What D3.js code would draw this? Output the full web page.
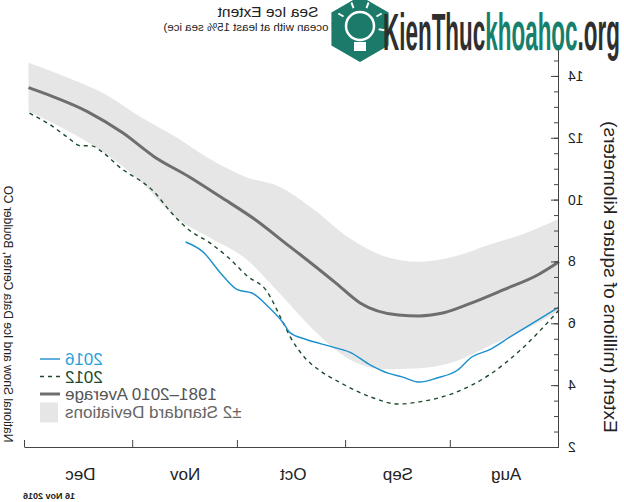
<!DOCTYPE html>
<html>
<head>
<meta charset="utf-8">
<script src="https://cdn.jsdelivr.net/npm/d3@7"></script>
<style>
  body { margin: 0; background: #fff; }
  svg { display: block; font-family: "Liberation Sans", Arial, sans-serif; }
</style>
</head>
<body>
<svg id="chart" width="624" height="502"></svg>
<script>
// values (millions of km²), dates as month-day
const months = ["Aug", "Sep", "Oct", "Nov", "Dec"];
const yTicks = [2, 4, 6, 8, 10, 12, 14];
const legendLabels = ["2016", "2012", "1981\u20132010 Average", "\u00b12 Standard Deviations"];

const bandDates = ["08-01","08-11","08-21","08-31","09-10","09-20","09-30","10-10",
                   "10-20","10-30","11-09","11-19","11-29","12-09","12-19","12-31"];
const bandUpper = [9.38, 8.90, 8.54, 8.16, 7.99, 8.17, 8.75, 9.66,
                   10.41, 10.74, 11.31, 12.04, 12.68, 13.41, 13.91, 14.43];
const bandLower = [6.40, 5.79, 5.27, 4.76, 4.55, 4.52, 4.83, 5.75,
                   6.96, 8.11, 8.77, 9.44, 10.60, 11.50, 12.18, 12.86];

const avgDates = ["08-01","08-07","08-17","08-26","09-03","09-10","09-16","09-27","10-04","10-14",
                  "10-17","10-27","11-06","11-15","11-25","12-04","12-14","12-24","12-31"];
const avgValues = [7.99, 7.57, 7.08, 6.66, 6.34, 6.24, 6.27, 6.66, 7.31, 8.21,
                   8.47, 9.35, 10.09, 10.74, 11.39, 12.16, 12.84, 13.33, 13.62];

const dates2012 = ["08-01","08-12","08-21","08-31","09-10","09-16","09-24","10-03","10-08","10-13",
                   "10-17","10-19","10-24","10-29","11-04","11-09","11-15","11-20","11-25","12-05",
                   "12-10","12-13","12-16","12-20","12-24","12-31"];
const values2012 = [6.43, 5.14, 4.33, 3.75, 3.46, 3.39, 3.62, 4.10, 4.43, 4.91,
                    5.56, 6.01, 7.08, 7.50, 8.15, 8.60, 9.02, 9.57, 10.25, 11.06,
                    11.55, 11.74, 11.74, 12.03, 12.36, 12.81];

const dates2016 = ["08-01","08-07","08-15","08-21","08-26","08-30","09-05","09-10","09-15","09-19",
                   "09-24","09-30","10-05","10-13","10-17","10-19","10-23","10-28","11-01","11-06",
                   "11-11","11-16"];
const values2016 = [6.53, 6.11, 5.56, 5.14, 4.91, 4.49, 4.23, 4.10, 4.27, 4.39,
                    4.65, 5.07, 5.24, 5.50, 5.69, 6.01, 6.50, 6.98, 7.08, 7.63,
                    8.31, 8.63];

const parse = d3.timeParse("%m-%d");

const svg = d3.select("#chart");
svg.append("rect").attr("width", 624).attr("height", 502).attr("fill", "#fff");

// the reference is a mirror image, so draw normally and flip the whole chart
const g = svg.append("g").attr("transform", "translate(624,0) scale(-1,1)");

const x = d3.scaleTime()
    .domain([new Date(1900, 7, 1), new Date(1901, 0, 1)])
    .range([65, 599]);
const y = d3.scaleLinear().domain([2, 15]).range([447, 45]);

const band = d3.zip(bandDates.map(parse), bandLower, bandUpper);
const avg = d3.zip(avgDates.map(parse), avgValues);
const s2012 = d3.zip(dates2012.map(parse), values2012);
const s2016 = d3.zip(dates2016.map(parse), values2016);

const line = d3.line().x(d => x(d[0])).y(d => y(d[1])).curve(d3.curveMonotoneX);
const area = d3.area().x(d => x(d[0])).y0(d => y(d[1])).y1(d => y(d[2])).curve(d3.curveMonotoneX);

g.append("path").attr("d", area(band)).attr("fill", "#e6e6e6");

g.append("path").attr("d", line(avg))
    .attr("fill", "none").attr("stroke", "#6e6e6e").attr("stroke-width", 3);

g.append("path").attr("d", line(s2012))
    .attr("fill", "none").attr("stroke", "#1d4a2b").attr("stroke-width", 1.4)
    .attr("stroke-dasharray", "4,4");

g.append("path").attr("d", line(s2016))
    .attr("fill", "none").attr("stroke", "#1b8fce").attr("stroke-width", 1.4);

// y axis: minor ticks every 0.5, labelled every 2
g.append("g").attr("transform", "translate(65,0)")
    .call(d3.axisLeft(y).tickValues(d3.range(2, 15.01, 0.5)).tickSize(-5).tickSizeOuter(0).tickFormat(""))
    .call(a => a.selectAll("line,path").attr("stroke", "#444"));

g.append("g").attr("transform", "translate(65,0)")
    .call(d3.axisLeft(y).tickValues(yTicks).tickSize(-8).tickPadding(9).tickFormat(d3.format("d")))
    .call(a => a.select(".domain").remove())
    .call(a => a.selectAll("line").attr("stroke", "#444"))
    .call(a => a.selectAll("text").attr("font-size", 14).attr("fill", "#222")
        .attr("font-family", "Liberation Sans, Arial, sans-serif"));

// x axis: ticks at month starts, labels mid-month
const monthStarts = d3.range(months.length + 1).map(i => new Date(1900, 7 + i, 1));
g.append("g").attr("transform", "translate(0,447)")
    .call(d3.axisBottom(x).tickValues(monthStarts).tickSize(-7).tickSizeOuter(0).tickFormat(""))
    .call(a => a.selectAll("line,path").attr("stroke", "#444"));

const monthMids = months.map((m, i) => new Date(1900, 7 + i, 16));
g.append("g").attr("transform", "translate(0,447)")
    .call(d3.axisBottom(x).tickValues(monthMids).tickSize(0).tickPadding(21)
        .tickFormat((d, i) => months[i]))
    .call(a => a.select(".domain").remove())
    .call(a => a.selectAll("text").attr("font-size", 17).attr("fill", "#222")
        .attr("font-family", "Liberation Sans, Arial, sans-serif"));

// titles and credits
g.append("text").attr("x", 356).attr("y", 17).attr("text-anchor", "middle")
    .attr("font-size", 15.5).attr("fill", "#222").text("Sea Ice Extent");
g.append("text").attr("x", 356).attr("y", 31).attr("text-anchor", "middle")
    .attr("font-size", 11.5).attr("fill", "#222").text("(Area of ocean with at least 15% sea ice)");

g.append("text").attr("transform", "translate(20,277) rotate(-90)").attr("text-anchor", "middle")
    .attr("font-size", 19).attr("fill", "#222").text("Extent (millions of square kilometers)");

g.append("text").attr("transform", "translate(620,314) rotate(-90)").attr("text-anchor", "middle")
    .attr("font-size", 12).attr("fill", "#222").text("National Snow and Ice Data Center, Boulder CO");

g.append("text").attr("x", 601).attr("y", 499).attr("text-anchor", "end")
    .attr("font-size", 9).attr("font-weight", "bold").attr("fill", "#222").text("16 Nov 2016");

// legend
const legendColors = ["#2b9fd8", "#1d4a2b", "#555", "#666"];
const legend = g.append("g");
legendLabels.forEach((label, i) => {
  const by = 365 + i * 17.5;
  const row = legend.append("g");
  if (i === 3) {
    row.append("rect").attr("x", 566).attr("y", by - 15).attr("width", 18).attr("height", 20)
        .attr("fill", "#e6e6e6");
  } else {
    row.append("line").attr("x1", 564).attr("x2", 584).attr("y1", by - 6).attr("y2", by - 6)
        .attr("stroke", i === 0 ? "#1b8fce" : i === 1 ? "#1d4a2b" : "#6e6e6e")
        .attr("stroke-width", i === 2 ? 3 : 1.4)
        .attr("stroke-dasharray", i === 1 ? "4,4" : null);
  }
  row.append("text").attr("x", 559).attr("y", by).attr("text-anchor", "end")
      .attr("font-size", 17).attr("fill", legendColors[i]).text(label);
});

// watermark (not mirrored)
const wm = svg.append("g");
const hex = d3.range(6).map(k => {
  const a = Math.PI / 3 * k - Math.PI / 2;
  return [360 + 33 * Math.cos(a), 29 + 33 * Math.sin(a)];
});
wm.append("polygon").attr("points", hex.map(p => p.join(",")).join(" ")).attr("fill", "#1b7a69");
wm.append("circle").attr("cx", 360).attr("cy", 26).attr("r", 14)
    .attr("fill", "none").attr("stroke", "#fff").attr("stroke-width", 2.5);
wm.append("rect").attr("x", 354).attr("y", 42).attr("width", 12).attr("height", 9).attr("fill", "#fff");
[-150, -110, -70, -30, 10].forEach(deg => {
  const a = deg * Math.PI / 180;
  wm.append("line")
      .attr("x1", 360 + 19 * Math.cos(a)).attr("y1", 26 + 19 * Math.sin(a))
      .attr("x2", 360 + 25 * Math.cos(a)).attr("y2", 26 + 25 * Math.sin(a))
      .attr("stroke", "#fff").attr("stroke-width", 2);
});
const wmText = wm.append("text").attr("x", 0).attr("y", 0)
    .attr("font-family", "Liberation Sans Narrow, Liberation Sans, Arial, sans-serif")
    .attr("font-weight", "bold").attr("font-size", 51);
wmText.append("tspan").attr("fill", "#2f2f2f").text("KienThuc");
wmText.append("tspan").attr("fill", "#16806d").text("khoahoc");
wmText.append("tspan").attr("fill", "#2f2f2f").text(".org");
const w = wmText.node().getComputedTextLength();
wmText.attr("transform", `translate(383,50) scale(${237 / w},1)`);
</script>
</body>
</html>
